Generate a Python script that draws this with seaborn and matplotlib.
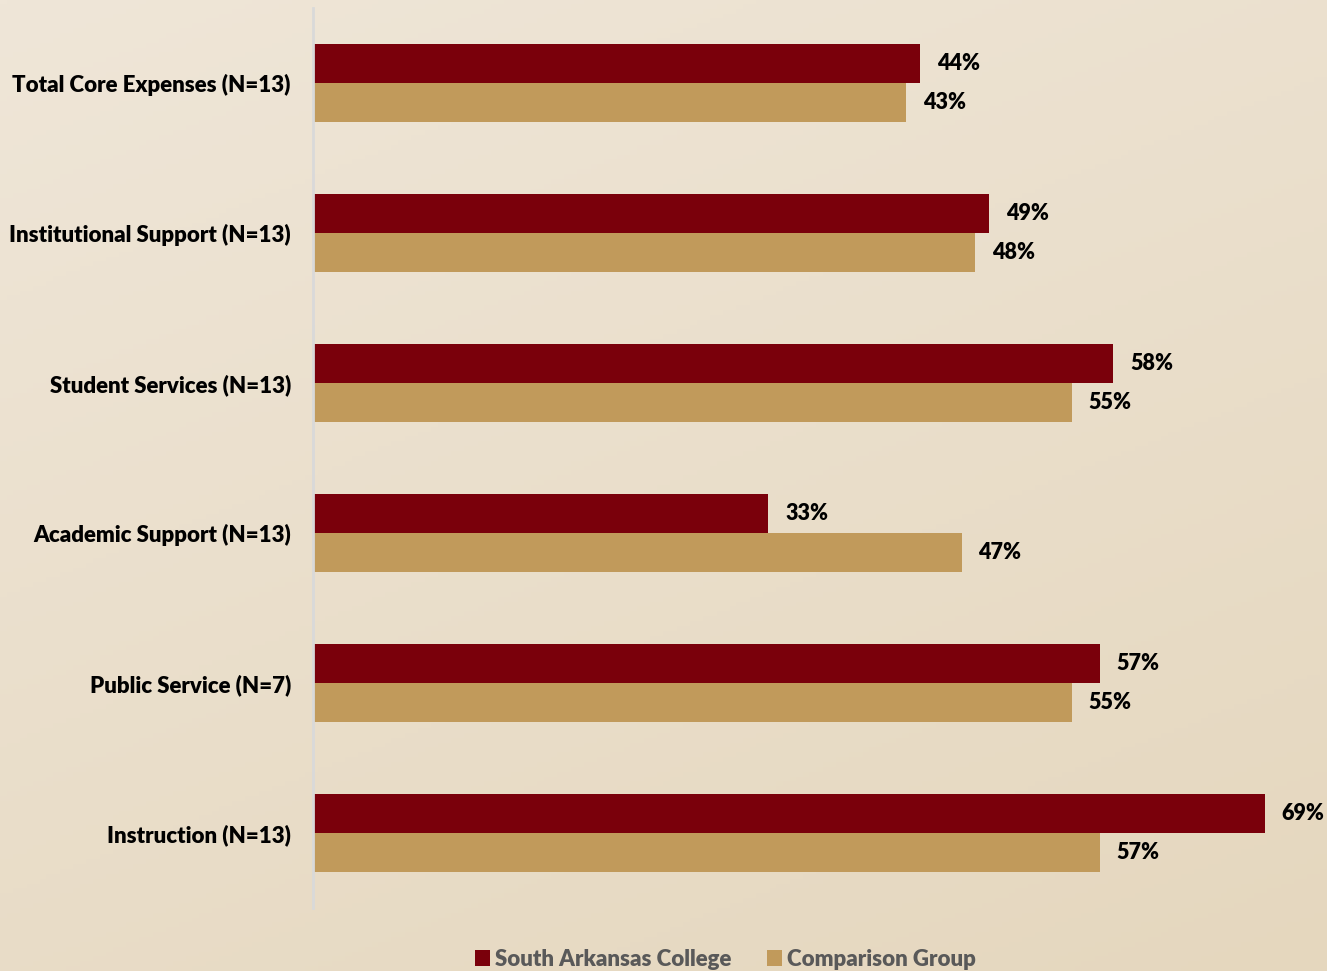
import numpy as np
import pandas as pd
import matplotlib.pyplot as plt
import seaborn as sns

categories = ["Total Core Expenses (N=13)", "Institutional Support (N=13)",
              "Student Services (N=13)", "Academic Support (N=13)",
              "Public Service (N=7)", "Instruction (N=13)"]
college = [44, 49, 58, 33, 57, 69]
comparison = [43, 48, 55, 47, 55, 57]
series = ["South Arkansas College", "Comparison Group"]
colors = ["#7a000b", "#c19a5b"]

df = pd.DataFrame({
    "category": categories * 2,
    "value": college + comparison,
    "group": [series[0]] * len(categories) + [series[1]] * len(categories),
})

sns.set_theme(style="white")
plt.rcParams["font.family"] = ["Lato", "DejaVu Sans"]
plt.rcParams["font.weight"] = "heavy"

fig = plt.figure(figsize=(13.27, 9.71), dpi=100)

# beige gradient background
bg = fig.add_axes([0, 0, 1, 1], zorder=-10)
gx, gy = np.meshgrid(np.linspace(0, 1, 200), np.linspace(0, 1, 200))
t = (gx * 0.35 + gy * 0.65)
top = np.array([239, 230, 216]) / 255
bot = np.array([229, 215, 190]) / 255
img = top[None, None, :] * (1 - t[..., None]) + bot[None, None, :] * t[..., None]
bg.imshow(img, aspect="auto", extent=[0, 1, 0, 1], origin="upper")
bg.axis("off")

ax = fig.add_axes([313 / 1327, 63 / 971, 1 - 313 / 1327, 900 / 971])
ax.patch.set_alpha(0)
sns.barplot(data=df, y="category", x="value", hue="group", orient="h",
            palette=colors, width=0.52, saturation=1, linewidth=0, ax=ax, legend=True)

ax.set_xlim(0, (1327 - 313) / 13.8)
ax.set_xlabel("")
ax.set_ylabel("")
ax.set_xticks([])
ax.tick_params(axis="y", length=0, pad=16, labelsize=16, labelcolor="black")
for lab in ax.get_yticklabels():
    lab.set_fontweight("heavy")
for s in ["top", "right", "bottom"]:
    ax.spines[s].set_visible(False)
ax.spines["left"].set_color("#d9d9d9")
ax.spines["left"].set_linewidth(2)

for cont in ax.containers:
    ax.bar_label(cont, labels=[f"{v:.0f}%" for v in cont.datavalues],
                 padding=12, fontsize=15.5, fontweight="heavy", color="black")

handles, labels = ax.get_legend_handles_labels()
ax.get_legend().remove()
fig.legend(handles, labels, loc="center", bbox_to_anchor=(725 / 1327, 12 / 971),
           ncol=2, frameon=False, fontsize=16, handlelength=0.7, handleheight=0.7,
           handletextpad=0.2, columnspacing=1.6, labelcolor="#595959")

fig.savefig("out.png", dpi=100)
plt.close()
